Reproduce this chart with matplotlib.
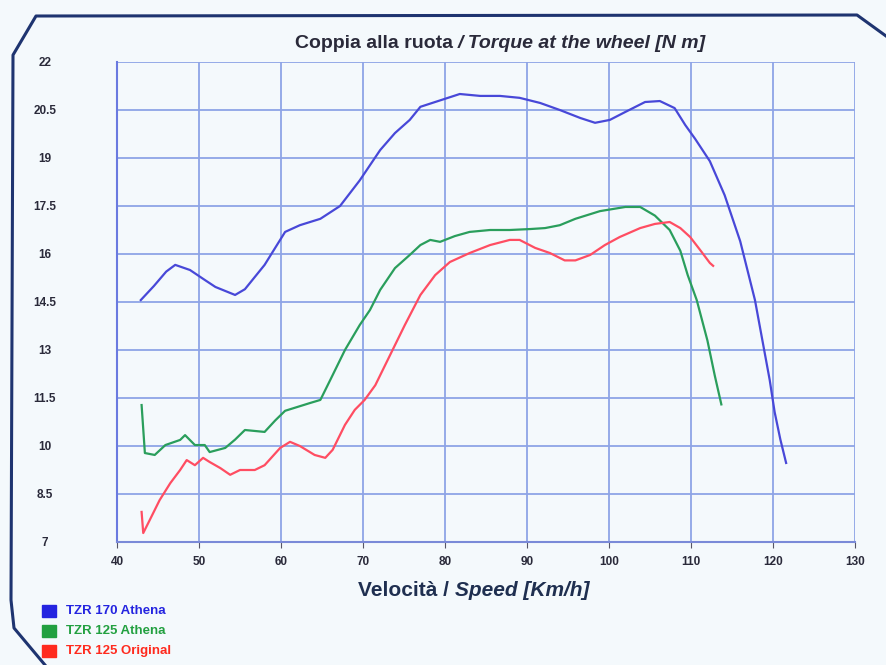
import matplotlib.pyplot as plt
from matplotlib.lines import Line2D
from matplotlib.patches import Rectangle

# speed [km/h] / torque [N m]
speed_170 = [42.9, 44.5, 46.0, 47.1, 48.9, 50.7, 52.0, 54.4, 55.6, 58.0, 60.5, 62.3, 64.8, 67.2,
             69.6, 72.1, 73.9, 75.7, 77.0, 79.4, 81.8, 84.3, 86.7, 89.1, 91.6, 94.0, 96.5,
             98.3, 100.1, 102.0, 104.4, 106.2, 108.0, 109.3, 110.5, 112.3, 114.1, 116.0,
             117.8, 119.6, 120.2, 120.9, 121.6]
torque_170 = [14.56, 15.0, 15.45, 15.66, 15.5, 15.19, 14.97, 14.72, 14.9, 15.66, 16.69, 16.9,
              17.1, 17.5, 18.3, 19.25, 19.78, 20.19, 20.6, 20.8, 21.0, 20.94, 20.94, 20.88,
              20.72, 20.5, 20.25, 20.1, 20.19, 20.44, 20.75, 20.78, 20.56, 20.03, 19.6, 18.9,
              17.84, 16.4, 14.56, 12.06, 11.06, 10.2, 9.47]

speed_125a = [43.0, 43.4, 44.6, 45.9, 47.7, 48.3, 49.5, 50.7, 51.3, 53.2, 54.4, 55.6, 58.0,
              59.3, 60.5, 63.5, 64.8, 66.0, 67.8, 69.6, 70.85, 72.1, 73.9, 75.7, 77.0, 78.2,
              79.4, 81.2, 83.0, 85.5, 87.9, 90.4, 92.2, 94.0, 95.9, 98.9, 102.0, 103.8, 105.6,
              107.4, 108.7, 109.6, 110.7, 112.0, 112.9, 113.7]
torque_125a = [11.28, 9.78, 9.72, 10.03, 10.19, 10.34, 10.03, 10.03, 9.81, 9.94, 10.2, 10.5,
               10.44, 10.8, 11.1, 11.34, 11.44, 12.06, 13.0, 13.78, 14.25, 14.88, 15.56,
               15.97, 16.28, 16.44, 16.38, 16.56, 16.69, 16.75, 16.75, 16.78, 16.81, 16.9,
               17.1, 17.34, 17.47, 17.47, 17.2, 16.75, 16.1, 15.34, 14.56, 13.3, 12.2, 11.3]

speed_125o = [43.0, 43.2, 44.0, 45.2, 46.5, 47.7, 48.5, 49.5, 50.5, 51.3, 52.6, 53.8, 55.0,
              56.8, 58.0, 59.9, 61.1, 62.3, 64.1, 65.4, 66.3, 67.8, 69.0, 70.2, 71.5, 73.3,
              75.1, 77.0, 78.8, 80.6, 83.0, 85.5, 87.9, 89.1, 91.0, 92.8, 94.6, 95.9, 97.7,
              99.5, 101.3, 103.8, 105.6, 107.4, 108.7, 109.9, 111.1, 112.3, 112.7]
torque_125o = [7.94, 7.28, 7.69, 8.31, 8.84, 9.25, 9.56, 9.4, 9.63, 9.5, 9.31, 9.1, 9.25, 9.25,
               9.4, 9.94, 10.13, 10.0, 9.72, 9.63, 9.88, 10.66, 11.13, 11.44, 11.9, 12.84,
               13.78, 14.72, 15.34, 15.75, 16.03, 16.28, 16.44, 16.44, 16.19, 16.03, 15.8,
               15.8, 15.97, 16.28, 16.53, 16.81, 16.94, 17.0, 16.81, 16.53, 16.13, 15.72, 15.63]

x_ticks = [40, 50, 60, 70, 80, 90, 100, 110, 120, 130]
y_ticks = [7, 8.5, 10, 11.5, 13, 14.5, 16, 17.5, 19, 20.5, 22]
legend_names = ["TZR 170 Athena", "TZR 125 Athena", "TZR 125 Original"]

bg = "#f4f9fc"
grid_c = "#8ea4e6"
dark = "#2a2a3a"

fig = plt.figure(figsize=(8.86, 6.65), dpi=100, facecolor=bg)
ax = fig.add_axes([117/886, 1-542/665, (855-117)/886, (542-62)/665], facecolor=bg)

ax.plot(speed_170, torque_170, color="#4848d8", lw=1.6)
ax.plot(speed_125a, torque_125a, color="#2a9e5c", lw=1.6)
ax.plot(speed_125o, torque_125o, color="#ff4d62", lw=1.6)

ax.set_xlim(40, 130)
ax.set_ylim(7, 22)
ax.set_xticks(x_ticks)
ax.set_yticks(y_ticks)
ax.set_xticklabels([str(t) for t in x_ticks], fontsize=8.5, fontweight="bold", color=dark,
                   family="Liberation Sans")
ax.set_yticklabels([("%g" % t) for t in y_ticks], fontsize=8.5, fontweight="bold", color=dark,
                   family="Liberation Sans", ha="center")
ax.tick_params(axis="y", length=0, pad=52)
ax.tick_params(axis="x", length=4, color="#556", pad=6)
ax.grid(True, color=grid_c, lw=1.3)
for s in ["top", "right"]:
    ax.spines[s].set_visible(False)
ax.spines["left"].set_color("#6a7ae0")
ax.spines["bottom"].set_color("#7a8ad8")
ax.spines["left"].set_linewidth(1.5)
ax.spines["bottom"].set_linewidth(1.5)

# title in two parts (upright + italic)
fig.text(458/886, 1-43/665, "Coppia alla ruota ", ha="right", va="center", fontsize=14,
         fontweight="bold", color=dark, family="Liberation Sans")
fig.text(458/886, 1-43/665, "/ Torque at the wheel [N m]", ha="left", va="center", fontsize=14,
         fontweight="bold", style="italic", color=dark, family="Liberation Sans")

# x label in two parts
fig.text(455/886, 1-591/665, "Velocità / ", ha="right", va="center", fontsize=15,
         fontweight="bold", color="#1f2f50", family="Liberation Sans")
fig.text(455/886, 1-591/665, "Speed [Km/h]", ha="left", va="center", fontsize=15,
         fontweight="bold", style="italic", color="#1f2f50", family="Liberation Sans")

# legend at bottom left
leg_cols = ["#2424e0", "#22a040", "#ff2a1e"]
for i, (name, c) in enumerate(zip(legend_names, leg_cols)):
    yc = 1 - (611 + i*20)/665
    fig.patches.append(Rectangle((42/886, yc - 6/665), 14/886, 12/665, color=c,
                                 transform=fig.transFigure))
    fig.text(66/886, yc, name, ha="left", va="center", fontsize=9.5, fontweight="bold",
             color=c, family="Liberation Sans")

# octagon-ish frame
fx = [45, 14, 11, 13, 36, 857, 886]
fy = [665, 628, 600, 55, 16, 15, 36]
fig.add_artist(Line2D([v/886 for v in fx], [1 - v/665 for v in fy], color="#1e3470", lw=2.2,
                      transform=fig.transFigure))

fig.savefig("out.png", dpi=100, facecolor=bg)
